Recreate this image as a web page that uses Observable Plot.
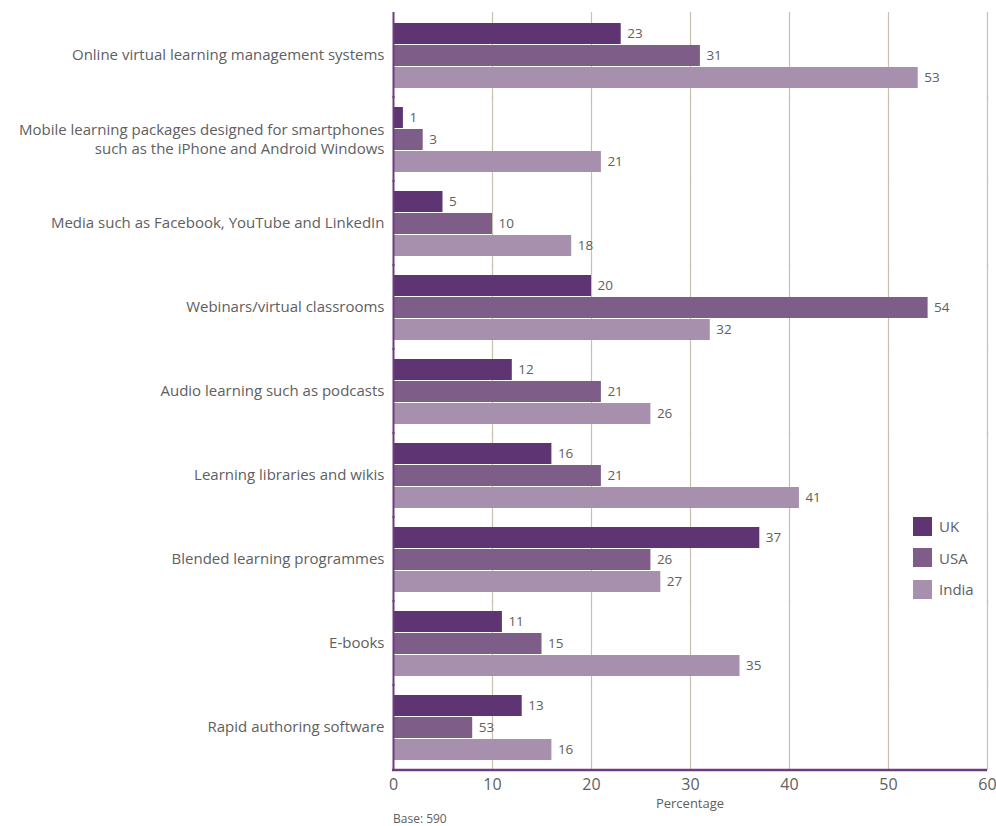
<!DOCTYPE html>
<html><head><meta charset="utf-8">
<script src="https://cdn.jsdelivr.net/npm/d3@7"></script>
<script src="https://cdn.jsdelivr.net/npm/@observablehq/plot@0.6"></script>
<style>
body{margin:0;background:#fff;font-family:"Open Sans",sans-serif;}
#wrap{position:relative;width:996px;height:826px;}
.lg{position:absolute;left:913px;font-size:15px;color:#606060;display:flex;align-items:center;}
.lg span.sw{display:inline-block;width:19px;height:19px;margin-right:7px;}
.ov{position:absolute;color:#606060;}
</style></head>
<body><div id="wrap"></div>
<script>
const categories = [
  "Online virtual learning management systems",
  "Mobile learning packages designed for smartphones\nsuch as the iPhone and Android Windows",
  "Media such as Facebook, YouTube and LinkedIn",
  "Webinars/virtual classrooms",
  "Audio learning such as podcasts",
  "Learning libraries and wikis",
  "Blended learning programmes",
  "E-books",
  "Rapid authoring software"
];
const series = ["UK", "USA", "India"];
const colors = ["#5f3472", "#7f5d89", "#a78fae"];
const ukValues = [23, 1, 5, 20, 12, 16, 37, 11, 13];
const usaValues = [31, 3, 10, 54, 21, 21, 26, 15, 8];
const indiaValues = [53, 21, 18, 32, 26, 41, 27, 35, 16];
const ukLabels = ["23", "1", "5", "20", "12", "16", "37", "11", "13"];
const usaLabels = ["31", "3", "10", "54", "21", "21", "26", "15", "53"];
const indiaLabels = ["53", "21", "18", "32", "26", "41", "27", "35", "16"];
const xTicks = [0, 10, 20, 30, 40, 50, 60];
const gridTicks = [10, 20, 30, 40, 50, 60];

const valuesBySeries = [ukValues, usaValues, indiaValues];
const labelsBySeries = [ukLabels, usaLabels, indiaLabels];
const rows = [];
categories.forEach((c, i) => series.forEach((s, j) => rows.push({cat: c, series: s, value: valuesBySeries[j][i], label: labelsBySeries[j][i]})));

const W = 996, H = 826, mL = 393, mR = 9, mT = 12, mB = 56;
const plot = Plot.plot({
  width: W, height: H, marginLeft: mL, marginRight: mR, marginTop: mT, marginBottom: mB,
  style: {fontFamily: "'Open Sans', sans-serif", fontSize: "15px", color: "#606060", background: "#fff"},
  x: {domain: [0, 60], ticks: xTicks, tickSize: 0, tickPadding: 18, label: null},
  y: {domain: series, paddingInner: 0.06, paddingOuter: 0, axis: null},
  fy: {domain: categories, paddingInner: 0.22, paddingOuter: 0.11, axis: "left", tickSize: 0, tickPadding: 9, label: null},
  color: {domain: series, range: colors},
  marks: [
    Plot.ruleX(gridTicks, {stroke: "#c9c0ad", strokeWidth: 1.2, insetTop: -10, insetBottom: -10}),
    Plot.barX(rows, {x: "value", y: "series", fy: "cat", fill: "series"}),
    Plot.text(rows, {x: "value", y: "series", fy: "cat", text: "label", textAnchor: "start", dx: 6, fill: "#606060", fontSize: 13.5}),
    Plot.ruleX([0], {stroke: "#6b3d7d", strokeWidth: 2, insetTop: -10, insetBottom: -10})
  ]
});
const wrap = document.getElementById("wrap");
wrap.appendChild(plot);
// x-axis baseline drawn from the x scale
const sx = plot.scale("x");
d3.select(plot).append("line")
  .attr("x1", sx.apply(0) - 1).attr("x2", sx.apply(60))
  .attr("y1", H - mB).attr("y2", H - mB)
  .attr("stroke", "#6b3d7d").attr("stroke-width", 2.5);
d3.select(plot).selectAll("g[aria-label='x-axis tick label'] text, g[aria-label='x-axis'] text").attr("font-size", 16);
// looser line spacing for multi-line category labels
d3.select(plot).selectAll("text").each(function() {
  const ts = d3.select(this).selectAll("tspan");
  const n = ts.size();
  if (n > 1) {
    ts.each(function(_, k) {
      d3.select(this).attr("dy", k === 0 ? (0.5 - (n - 1) * 1.25 / 2) + "em" : "1.25em");
    });
  }
});

const lab = document.createElement("div");
lab.className = "ov"; lab.textContent = "Percentage";
lab.style.cssText = "left:" + (sx.apply(30) - 60) + "px;width:120px;text-align:center;top:794px;font-size:13px;";
wrap.appendChild(lab);
const base = document.createElement("div");
base.className = "ov"; base.textContent = "Base: 590";
base.style.cssText = "left:393px;top:810px;font-size:12px;";
wrap.appendChild(base);
series.forEach((s, j) => {
  const d = document.createElement("div");
  d.className = "lg";
  d.style.top = (517 + j * 31.5 - 1) + "px";
  d.innerHTML = '<span class="sw" style="background:' + colors[j] + '"></span>' + s;
  wrap.appendChild(d);
});
</script></body></html>
